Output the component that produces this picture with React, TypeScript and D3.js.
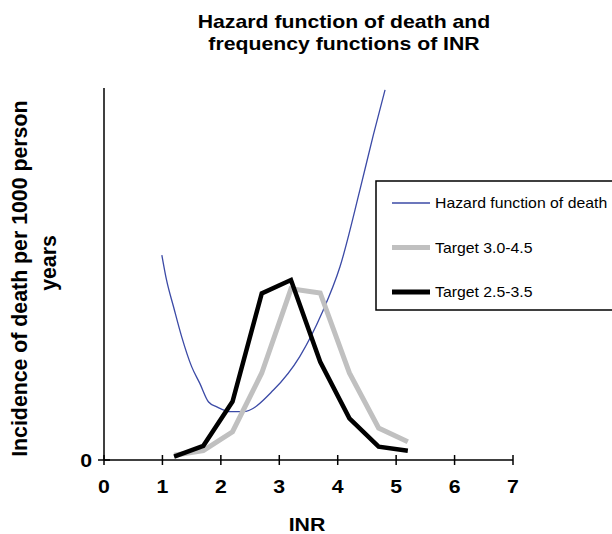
import React from "react";
import * as d3 from "d3";

const hazardX = [0.99, 1.07, 1.19, 1.33, 1.5, 1.64, 1.79, 1.93, 2.16, 2.38, 2.9, 3.35, 3.73, 4.04, 4.38, 4.61, 4.81];
const hazardY = [55.1, 48.4, 41.2, 33.1, 25.1, 20.6, 15.6, 14.3, 13.0, 13.0, 18.8, 27.8, 39.5, 52.0, 72.6, 87.4, 99.5];

const targetX = [1.2, 1.7, 2.2, 2.7, 3.2, 3.7, 4.2, 4.7, 5.2];
const grey3045 = [1.3, 2.5, 7.6, 23.4, 46.0, 44.9, 23.4, 8.6, 4.9];
const black2535 = [0.9, 3.8, 15.7, 44.8, 48.4, 26.4, 11.2, 3.6, 2.5];

const xTicks = [0, 1, 2, 3, 4, 5, 6, 7];
const yTicks = [0];

const legendLabels = ["Hazard function of death", "Target 3.0-4.5", "Target 2.5-3.5"];

const FONT = "'Liberation Sans', Arial, Helvetica, sans-serif";

function SText(props: {
  x: number;
  y: number;
  sx?: number;
  size: number;
  bold?: boolean;
  anchor?: "start" | "middle" | "end";
  children: React.ReactNode;
}) {
  const { x, y, sx = 1.15, size, bold = true, anchor = "start", children } = props;
  return (
    <text
      transform={`translate(${x},${y}) scale(${sx},1)`}
      fontSize={size}
      fontWeight={bold ? "bold" : "normal"}
      textAnchor={anchor}
    >
      {children}
    </text>
  );
}

export default function App() {
  const W = 612, H = 534;
  const x = d3.scaleLinear().domain([0, 7]).range([104, 513]);
  const y = d3.scaleLinear().domain([0, 100]).range([460, 88]);

  const hazardLine = d3
    .line<number>()
    .x((_, i) => x(hazardX[i]))
    .y((d) => y(d))
    .curve(d3.curveMonotoneX);
  const straight = d3
    .line<number>()
    .x((_, i) => x(targetX[i]))
    .y((d) => y(d));

  const legendItems = [
    { label: legendLabels[0], color: "#3b4aa6", width: 1.3 },
    { label: legendLabels[1], color: "#c0c0c0", width: 5 },
    { label: legendLabels[2], color: "#000000", width: 5 },
  ];

  return (
    <svg
      width={W}
      height={H}
      style={{ position: "absolute", left: 0, top: 0 }}
      fontFamily={FONT}
    >
      <rect width={W} height={H} fill="#ffffff" />
      <SText x={344} y={28} size={17.7} sx={1.2} anchor="middle">
        Hazard function of death and
      </SText>
      <SText x={344} y={50} size={17.7} sx={1.2} anchor="middle">
        frequency functions of INR
      </SText>

      {/* axes */}
      <line x1={x(0)} x2={x(0)} y1={y(100)} y2={y(0)} stroke="#000" strokeWidth={1.5} />
      <line x1={x(0)} x2={x(7)} y1={y(0)} y2={y(0)} stroke="#000" strokeWidth={1.5} />
      {xTicks.map((t) => (
        <g key={t}>
          <line x1={x(t)} x2={x(t)} y1={y(0) - 5} y2={y(0) + 5} stroke="#000" strokeWidth={1.5} />
          <SText x={x(t)} y={y(0) + 33} size={18.5} anchor="middle">
            {t}
          </SText>
        </g>
      ))}
      {yTicks.map((t) => (
        <g key={t}>
          <line x1={x(0) - 6} x2={x(0) + 6} y1={y(t)} y2={y(t)} stroke="#000" strokeWidth={1.5} />
          <SText x={x(0) - 12} y={y(t) + 7} size={18.5} anchor="end">
            {t}
          </SText>
        </g>
      ))}

      <SText x={307} y={531} size={18.5} anchor="middle">
        INR
      </SText>
      <g transform="rotate(-90)">
        <text x={-278.7} y={27} textAnchor="middle" fontSize={21.3} fontWeight="bold">
          Incidence of death per 1000 person
        </text>
        <text x={-263} y={56} textAnchor="middle" fontSize={21.3} fontWeight="bold">
          years
        </text>
      </g>

      {/* series */}
      <path d={hazardLine(hazardY) || ""} fill="none" stroke="#3b4aa6" strokeWidth={1.3} />
      <path d={straight(grey3045) || ""} fill="none" stroke="#c0c0c0" strokeWidth={5} />
      <path d={straight(black2535) || ""} fill="none" stroke="#000" strokeWidth={4.5} />

      {/* legend */}
      <rect x={376} y={181} width={250} height={129} fill="#fff" stroke="#000" strokeWidth={1.5} />
      {legendItems.map((it, i) => {
        const ly = 203 + i * 44.5;
        return (
          <g key={it.label}>
            <line x1={392} x2={430} y1={ly} y2={ly} stroke={it.color} strokeWidth={it.width} />
            <SText x={435} y={ly + 5} size={14} sx={1.13} bold={false}>
              {it.label}
            </SText>
          </g>
        );
      })}
    </svg>
  );
}
